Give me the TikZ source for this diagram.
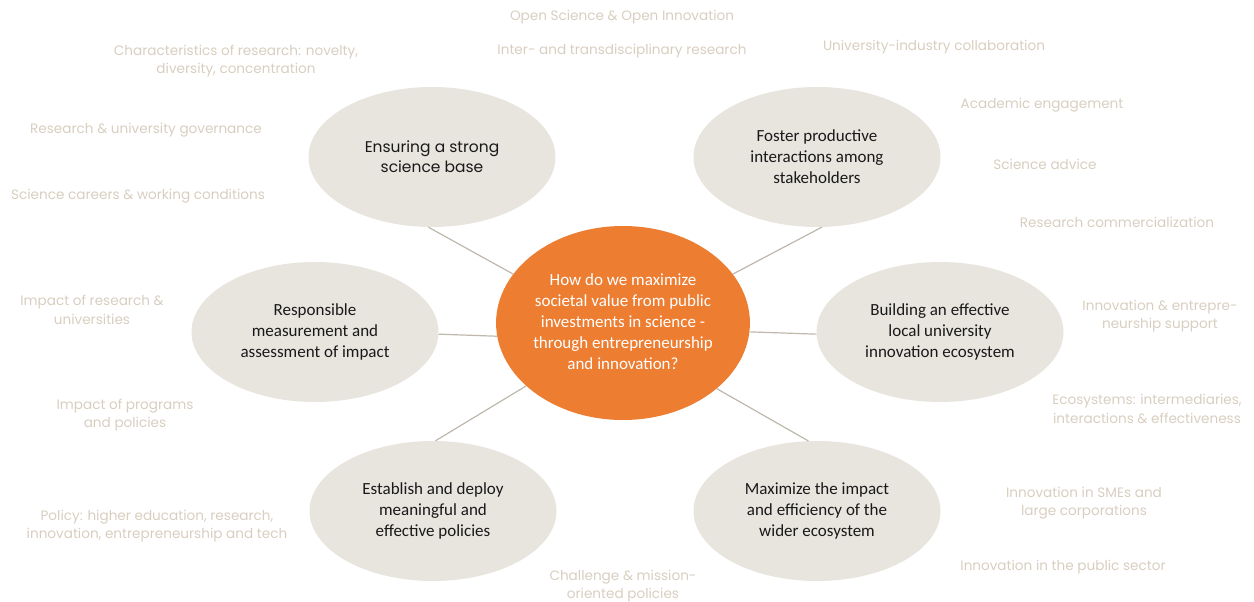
\documentclass[tikz,border=0pt]{standalone}
\usepackage{fontspec}
\setmainfont{Carlito}
\newfontfamily\notefont{Poppins}
\usetikzlibrary{shapes.geometric}
\definecolor{hubfill}{RGB}{237,125,49}
\definecolor{topicfill}{RGB}{232,229,223}
\definecolor{notegray}{RGB}{216,206,192}
\definecolor{spokegray}{RGB}{190,183,172}
\tikzstyle{topic}=[ellipse, fill=topicfill, minimum width=247pt, minimum height=140pt, inner sep=0pt, align=center, text=black!90, font=\fontsize{17}{21}\selectfont]
\tikzstyle{hub}=[topic, fill=hubfill, minimum height=194pt, text=white]
\tikzstyle{spoke}=[draw=spokegray, line width=1.2pt]
\tikzstyle{note}=[align=center, text=notegray, inner sep=0pt, font=\notefont\fontsize{13.6}{18.5}\selectfont]

\begin{document}
\begin{tikzpicture}[x=1pt, y=-1pt]
  \useasboundingbox (0,0) rectangle (1254,602);
  % centre and the six themes
  \node[hub] (hub) at (623,323) {\raisebox{-5pt}{\begin{tabular}{@{}c@{}}How do we maximize\\societal value from public\\investments in science -\\through entrepreneurship\\and innovation?\end{tabular}}};
  \node[topic, font=\notefont\fontsize{15.5}{20}\selectfont] (ensure) at (432,157) {Ensuring a strong\\science base};
  \node[topic] (foster) at (817,157) {Foster productive\\interactions among\\stakeholders};
  \node[topic] (measure) at (315,332) {Responsible\\measurement and\\assessment of impact};
  \node[topic] (build) at (940,332) {Building an effective\\local university\\innovation ecosystem};
  \node[topic] (policy) at (433,511) {Establish and deploy\\meaningful and\\effective policies};
  \node[topic] (wider) at (817,511) {Maximize the impact\\and efficiency of the\\wider ecosystem};
  % spokes
  \draw[spoke] (ensure.-93) -- (hub.156);
  \draw[spoke] (foster.-86) -- (hub.24);
  \draw[spoke] (measure.-1) -- (hub.186);
  \draw[spoke] (build.181) -- (hub.-4);
  \draw[spoke] (policy.88) -- (hub.213);
  \draw[spoke] (wider.97) -- (hub.-35);
  % notes
  \node[note] (open) at (622,17) {Open Science \& Open Innovation};
  \node[note] (inter) at (622,51) {Inter- and transdisciplinary research};
  \node[note] (traits) at (236,61) {Characteristics of research: novelty,\\diversity, concentration};
  \node[note] (govern) at (146,130) {Research \& university governance};
  \node[note] (careers) at (138,196) {Science careers \& working conditions};
  \node[note] (industry) at (934,47) {University-industry collaboration};
  \node[note] (engage) at (1042,105) {Academic engagement};
  \node[note] (advice) at (1045,164) {Science advice};
  \node[note] (commerce) at (1117,222) {Research commercialization};
  \node[note] (support) at (1160,316) {Innovation \& entrepre-\\neurship support};
  \node[note] (intermed) at (1147,409) {Ecosystems: intermediaries,\\interactions \& effectiveness};
  \node[note] (smes) at (1084,503) {Innovation in SMEs and\\large corporations};
  \node[note] (public) at (1063,567) {Innovation in the public sector};
  \node[note] (mission) at (623,586) {Challenge \& mission-\\oriented policies};
  \node[note] (higher) at (157,526) {Policy: higher education, research,\\innovation, entrepreneurship and tech};
  \node[note] (programs) at (125,415) {Impact of programs\\and policies};
  \node[note] (univ) at (92,310) {Impact of research \&\\universities};
\end{tikzpicture}
\end{document}
